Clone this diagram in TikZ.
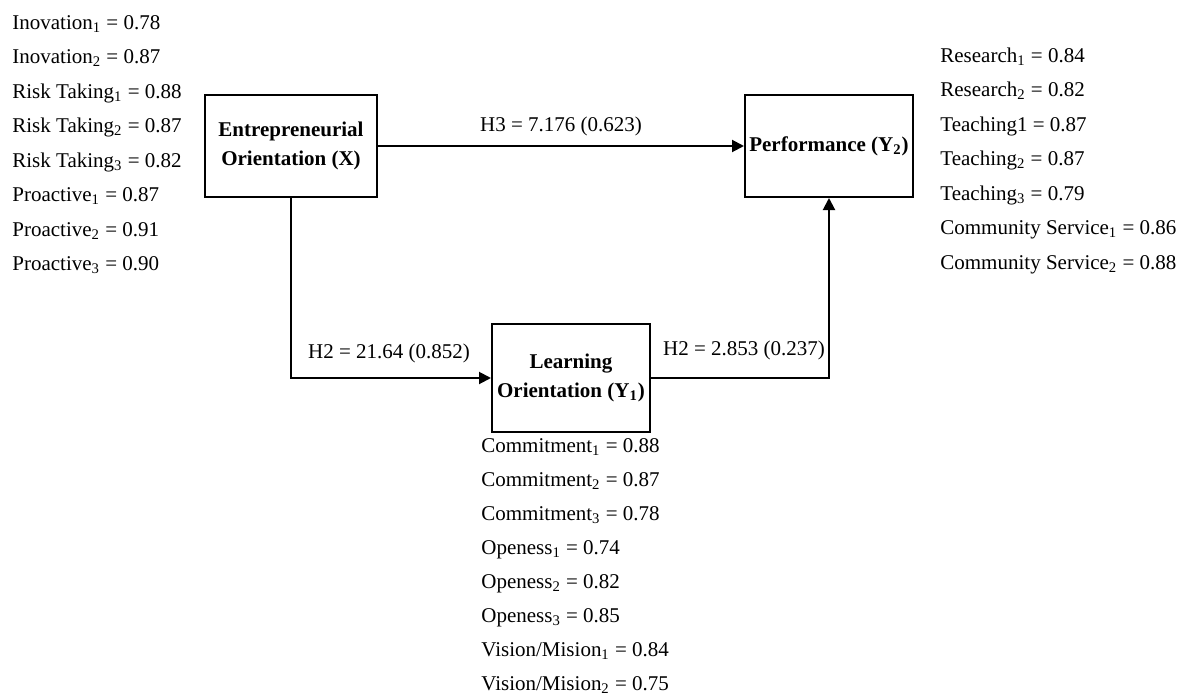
\documentclass[tikz,border=0pt]{standalone}
\usepackage{fontspec}
\setmainfont{Liberation Serif}
\usepackage{xcolor}
\usetikzlibrary{arrows.meta}

\begin{document}
\begin{tikzpicture}[x=0.5pt, y=-0.5pt,
            every node/.style={
            inner sep=0pt, font=\fontsize{10.5}{14.5}\selectfont}
        ]
        \tikzstyle {var_box} = [rectangle, draw=black, line width=1pt, align=center, font=\fontsize{10.5}{14.5}\selectfont\bfseries]
        \tikzstyle {item_text} = [anchor=base west]
        \tikzstyle {path_label} = [anchor=base]
        \tikzstyle {path_arrow} = [-{Triangle[length=6pt, width=6pt]}, line width=1pt]

        \useasboundingbox (0,0) rectangle (1180,697);

        \node [var_box, minimum width=86pt, minimum height=51pt] (eo) at (291,146) {Entrepreneurial\\Orientation (X)};
        \node [var_box, minimum width=84pt, minimum height=51pt] (perf) at (829,146) {Performance (Y\textsubscript{2})};
        \node [var_box, minimum width=79pt, minimum height=54pt] (lo) at (571,378) {Learning\\Orientation (Y\textsubscript{1})};

        % indicators of X
        \node [item_text] (x_inov1) at (12,29) {Inovation\textsubscript{1} = 0.78};
        \node [item_text] (x_inov2) at (12,63.5) {Inovation\textsubscript{2} = 0.87};
        \node [item_text] (x_risk1) at (12,98) {Risk Taking\textsubscript{1} = 0.88};
        \node [item_text] (x_risk2) at (12,132.5) {Risk Taking\textsubscript{2} = 0.87};
        \node [item_text] (x_risk3) at (12,167) {Risk Taking\textsubscript{3} = 0.82};
        \node [item_text] (x_pro1) at (12,201.5) {Proactive\textsubscript{1} = 0.87};
        \node [item_text] (x_pro2) at (12,236) {Proactive\textsubscript{2} = 0.91};
        \node [item_text] (x_pro3) at (12,270.5) {Proactive\textsubscript{3} = 0.90};

        % indicators of Y2
        \node [item_text] (y2_res1) at (940,62) {Research\textsubscript{1} = 0.84};
        \node [item_text] (y2_res2) at (940,96.5) {Research\textsubscript{2} = 0.82};
        \node [item_text] (y2_teach1) at (940,131) {Teaching1 = 0.87};
        \node [item_text] (y2_teach2) at (940,165.5) {Teaching\textsubscript{2} = 0.87};
        \node [item_text] (y2_teach3) at (940,200) {Teaching\textsubscript{3} = 0.79};
        \node [item_text] (y2_cs1) at (940,234.5) {Community Service\textsubscript{1} = 0.86};
        \node [item_text] (y2_cs2) at (940,269) {Community Service\textsubscript{2} = 0.88};

        % indicators of Y1
        \node [item_text] (y1_com1) at (481,452) {Commitment\textsubscript{1} = 0.88};
        \node [item_text] (y1_com2) at (481,486) {Commitment\textsubscript{2} = 0.87};
        \node [item_text] (y1_com3) at (481,520) {Commitment\textsubscript{3} = 0.78};
        \node [item_text] (y1_open1) at (481,554) {Openess\textsubscript{1} = 0.74};
        \node [item_text] (y1_open2) at (481,588) {Openess\textsubscript{2} = 0.82};
        \node [item_text] (y1_open3) at (481,622) {Openess\textsubscript{3} = 0.85};
        \node [item_text] (y1_vis1) at (481,656) {Vision/Mision\textsubscript{1} = 0.84};
        \node [item_text] (y1_vis2) at (481,690) {Vision/Mision\textsubscript{2} = 0.75};

        % paths
        \draw [path_arrow] (eo) -- (perf);
        \draw [path_arrow] (eo.south) |- (lo.west);
        \draw [path_arrow] (lo.east) -| (perf.south);

        \node [path_label] (h3) at (561,131) {H3 = 7.176 (0.623)};
        \node [path_label] (h2_a) at (389,358) {H2 = 21.64 (0.852)};
        \node [path_label] (h2_b) at (744,355) {H2 = 2.853 (0.237)};

        \end{tikzpicture}
\end{document}
